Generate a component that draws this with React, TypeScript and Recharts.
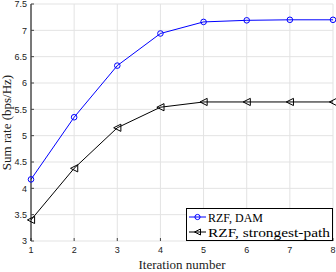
import { LineChart, Line, XAxis, YAxis, CartesianGrid, Label } from 'recharts';

const iterations = [1, 2, 3, 4, 5, 6, 7, 8];
const damRates = [4.17, 5.35, 6.33, 6.94, 7.16, 7.19, 7.2, 7.2];
const strongestRates = [3.4, 4.38, 5.15, 5.54, 5.64, 5.64, 5.64, 5.64];
const yTicks = [3, 3.5, 4, 4.5, 5, 5.5, 6, 6.5, 7, 7.5];

const data = iterations.map((it, i) => ({
  it,
  dam: damRates[i],
  strongest: strongestRates[i],
}));

const SERIF = '"Liberation Serif", "Times New Roman", serif';
const SANS = '"Liberation Sans", Arial, sans-serif';

const TriangleLeft = (props: any) => {
  const { cx, cy, stroke } = props;
  if (cx == null || cy == null) return null;
  const s = 3.6;
  return (
    <path
      d={`M${cx - s},${cy} L${cx + s},${cy - s} L${cx + s},${cy + s} Z`}
      fill="none"
      stroke={stroke}
      strokeWidth={1}
    />
  );
};

const LegendBox = () => (
  <svg width={147} height={33} style={{ display: 'block' }}>
    <rect x={0.5} y={0.5} width={146} height={32} fill="#fff" stroke="#000" strokeWidth={1} />
    <line x1={3} y1={9} x2={20} y2={9} stroke="#0000ff" strokeWidth={1} />
    <circle cx={11.5} cy={9} r={2.6} fill="none" stroke="#0000ff" strokeWidth={1} />
    <text x={22} y={13.5} fontFamily={SERIF} fontSize={13} fill="#000" textLength={55} lengthAdjust="spacingAndGlyphs">
      RZF, DAM
    </text>
    <line x1={3} y1={24} x2={20} y2={24} stroke="#000" strokeWidth={1} />
    <path d="M8.5,24 L14.5,21 L14.5,27 Z" fill="none" stroke="#000" strokeWidth={1} />
    <text x={22} y={28.5} fontFamily={SERIF} fontSize={13} fill="#000" textLength={122} lengthAdjust="spacingAndGlyphs">
      RZF, strongest-path
    </text>
  </svg>
);

export default function App() {
  return (
    <div style={{ position: 'absolute', left: 0, top: 0, width: 336, height: 272, background: '#fff' }}>
      <LineChart width={336} height={272} data={data} margin={{ top: 4, right: 3, left: 0, bottom: 0 }}>
        <CartesianGrid stroke="#e3e3e3" strokeWidth={1} />
        <XAxis
          dataKey="it"
          type="number"
          domain={[1, 8]}
          ticks={iterations}
          height={31}
          axisLine={false}
          tickLine={{ stroke: '#444' }}
          tickSize={-3}
          tickMargin={9}
          tick={{ fontSize: 9, fontFamily: SANS, fill: '#222' }}
        >
          <Label
            content={({ viewBox }: any) => (
              <text
                x={viewBox.x + viewBox.width / 2}
                y={viewBox.y + 28}
                textAnchor="middle"
                fontFamily={SERIF}
                fontSize={13}
                fill="#222"
              >
                Iteration number
              </text>
            )}
          />
        </XAxis>
        <YAxis
          type="number"
          domain={[3, 7.5]}
          ticks={yTicks}
          width={31}
          interval={0}
          axisLine={{ stroke: '#000' }}
          tickLine={{ stroke: '#444' }}
          tickSize={-3}
          tickMargin={7}
          tick={{ fontSize: 9, fontFamily: SANS, fill: '#222' }}
        >
          <Label
            content={({ viewBox }: any) => {
              const x = 11;
              const y = viewBox.y + viewBox.height / 2;
              return (
                <text
                  x={x}
                  y={y}
                  transform={`rotate(-90, ${x}, ${y})`}
                  textAnchor="middle"
                  fontFamily={SERIF}
                  fontSize={13}
                  fill="#222"
                >
                  Sum rate (bps/Hz)
                </text>
              );
            }}
          />
        </YAxis>
        <Line
          dataKey="dam"
          stroke="#0000ff"
          strokeWidth={1}
          dot={{ r: 2.8, fill: 'none', stroke: '#0000ff', strokeWidth: 1 }}
          activeDot={false}
          isAnimationActive={false}
        />
        <Line
          dataKey="strongest"
          stroke="#000"
          strokeWidth={1}
          dot={<TriangleLeft />}
          activeDot={false}
          isAnimationActive={false}
        />
      </LineChart>
      <div style={{ position: 'absolute', left: 186, top: 208 }}>
        <LegendBox />
      </div>
    </div>
  );
}
